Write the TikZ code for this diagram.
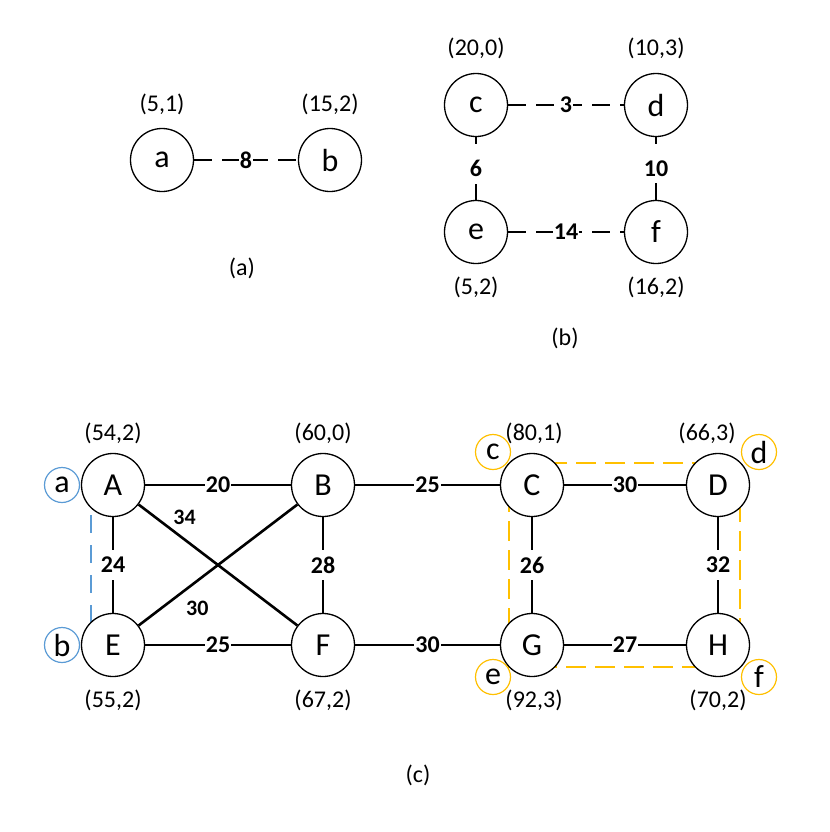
\documentclass[tikz,border=0pt]{standalone}
\usepackage{fontspec}
\setmainfont{Carlito}
\usepackage{tikz}
\usetikzlibrary{positioning, calc, backgrounds}
\definecolor{hlblue}{HTML}{5B9BD5}
\definecolor{hlorange}{HTML}{FFC000}

\begin{document}
\begin{tikzpicture}[x=0.5pt, y=-0.5pt, on grid,
    vertex/.style={circle, draw, line width=0.65pt, fill=white, minimum size=31.5pt, inner sep=0pt, font=\fontsize{16}{18}\selectfont},
    tag/.style={circle, draw, line width=0.6pt, fill=white, minimum size=17.5pt, inner sep=0pt, font=\fontsize{16}{18}\selectfont},
    pair/.style={font=\fontsize{12}{14}\selectfont},
    wt/.style={fill=white, inner xsep=0.6pt, inner ysep=3.5pt, font=\bfseries\fontsize{12}{14}\selectfont},
    xwt/.style={font=\bfseries\fontsize{11}{13}\selectfont},
    link/.style={line width=1.3pt},
    dlink/.style={line width=1.2pt, dash pattern=on 9pt off 5pt},
    ]
    \useasboundingbox (0,0) rectangle (830,832);

    % (a)
    \node[vertex] (a) at (162,160) {a};
    \node[vertex, right=84pt of a] (b) {b};
    \node[pair, above=28pt of a] (pa) {(5,1)};
    \node[pair, above=28pt of b] (pb) {(15,2)};
    \path[dlink] (a) edge node[wt] {8} (b);
    \node[pair] (capa) at (242,268) {(a)};

    % (b)
    \node[vertex] (c) at (476,105) {c};
    \node[vertex, right=90pt of c] (d) {d};
    \node[vertex, below=63.5pt of c] (e) {e};
    \node[vertex, below=63.5pt of d] (f) {f};
    \node[pair, above=28.5pt of c] (pc) {(20,0)};
    \node[pair, above=28.5pt of d] (pd) {(10,3)};
    \node[pair, below=27.5pt of e] (pe) {(5,2)};
    \node[pair, below=27.5pt of f] (pf) {(16,2)};
    \path[dlink]
        (c) edge node[wt] {3} (d)
        (e) edge node[wt] {6} (c)
        (e) edge node[wt] {14} (f)
        (f) edge node[wt] {10} (d);
    \node[pair] (capb) at (565,338) {(b)};

    % (c): vertices
    \node[vertex] (A) at (113,485) {A};
    \node[vertex, right=105pt of A] (B) {B};
    \node[vertex, right=104.5pt of B] (C) {C};
    \node[vertex, right=93pt of C] (D) {D};
    \node[vertex, below=80pt of A] (E) {E};
    \node[vertex, below=80pt of B] (F) {F};
    \node[vertex, below=80pt of C] (G) {G};
    \node[vertex, below=80pt of D] (H) {H};

    % (c): pairs
    \node[pair, above=26pt of A] (pA) {(54,2)};
    \node[pair, above=26pt of B] (pB) {(60,0)};
    \node[pair, above=26pt of C, xshift=1pt] (pC) {(80,1)};
    \node[pair, above=26pt of D, xshift=-5.5pt] (pD) {(66,3)};
    \node[pair, below=27.5pt of E] (pE) {(55,2)};
    \node[pair, below=27.5pt of F] (pF) {(67,2)};
    \node[pair, below=27.5pt of G, xshift=1pt] (pG) {(92,3)};
    \node[pair, below=27.5pt of H] (pH) {(70,2)};

    % (c): tags
    \node[tag, draw=hlblue, left=25.5pt of A] (ta) {a};
    \node[tag, draw=hlblue, left=25.5pt of E] (tb) {b};
    \node[tag, draw=hlorange, above left=16.5pt and 19.5pt of C] (tc) {c};
    \node[tag, draw=hlorange, above right=16.5pt and 20.5pt of D] (td) {d};
    \node[tag, draw=hlorange, below left=16pt and 19.5pt of G] (te) {e};
    \node[tag, draw=hlorange, below right=16pt and 20.5pt of H] (tf) {f};

    % (c): edges
    \path[link]
        (A) edge node[wt] {20} (B)
        (B) edge node[wt] {25} (C)
        (C) edge node[wt] {30} (D)
        (A) edge node[wt] {24} (E)
        (B) edge node[wt] {28} (F)
        (C) edge node[wt] {26} (G)
        (D) edge node[wt] {32} (H)
        (E) edge node[wt] {25} (F)
        (F) edge node[wt] {30} (G)
        (G) edge node[wt] {27} (H)
        (A) edge node[xwt, pos=0.29, yshift=11pt] {34} (F)
        (E) edge node[xwt, pos=0.37, yshift=-14pt] {30} (B);

    % (c): groups
    \begin{pgfonlayer}{background}
        \draw[hlblue, line width=1pt, dash pattern=on 9pt off 6pt]
            ($(A)+(-22,0)$) -- ($(E)+(-22,0)$);
        \draw[hlorange, line width=1.1pt, dash pattern=on 10pt off 4.5pt]
            ($(C)+(-23,-22)$) rectangle ($(H)+(22,22)$);
    \end{pgfonlayer}

    \node[pair] (capc) at (418,775) {(c)};
\end{tikzpicture}
\end{document}
